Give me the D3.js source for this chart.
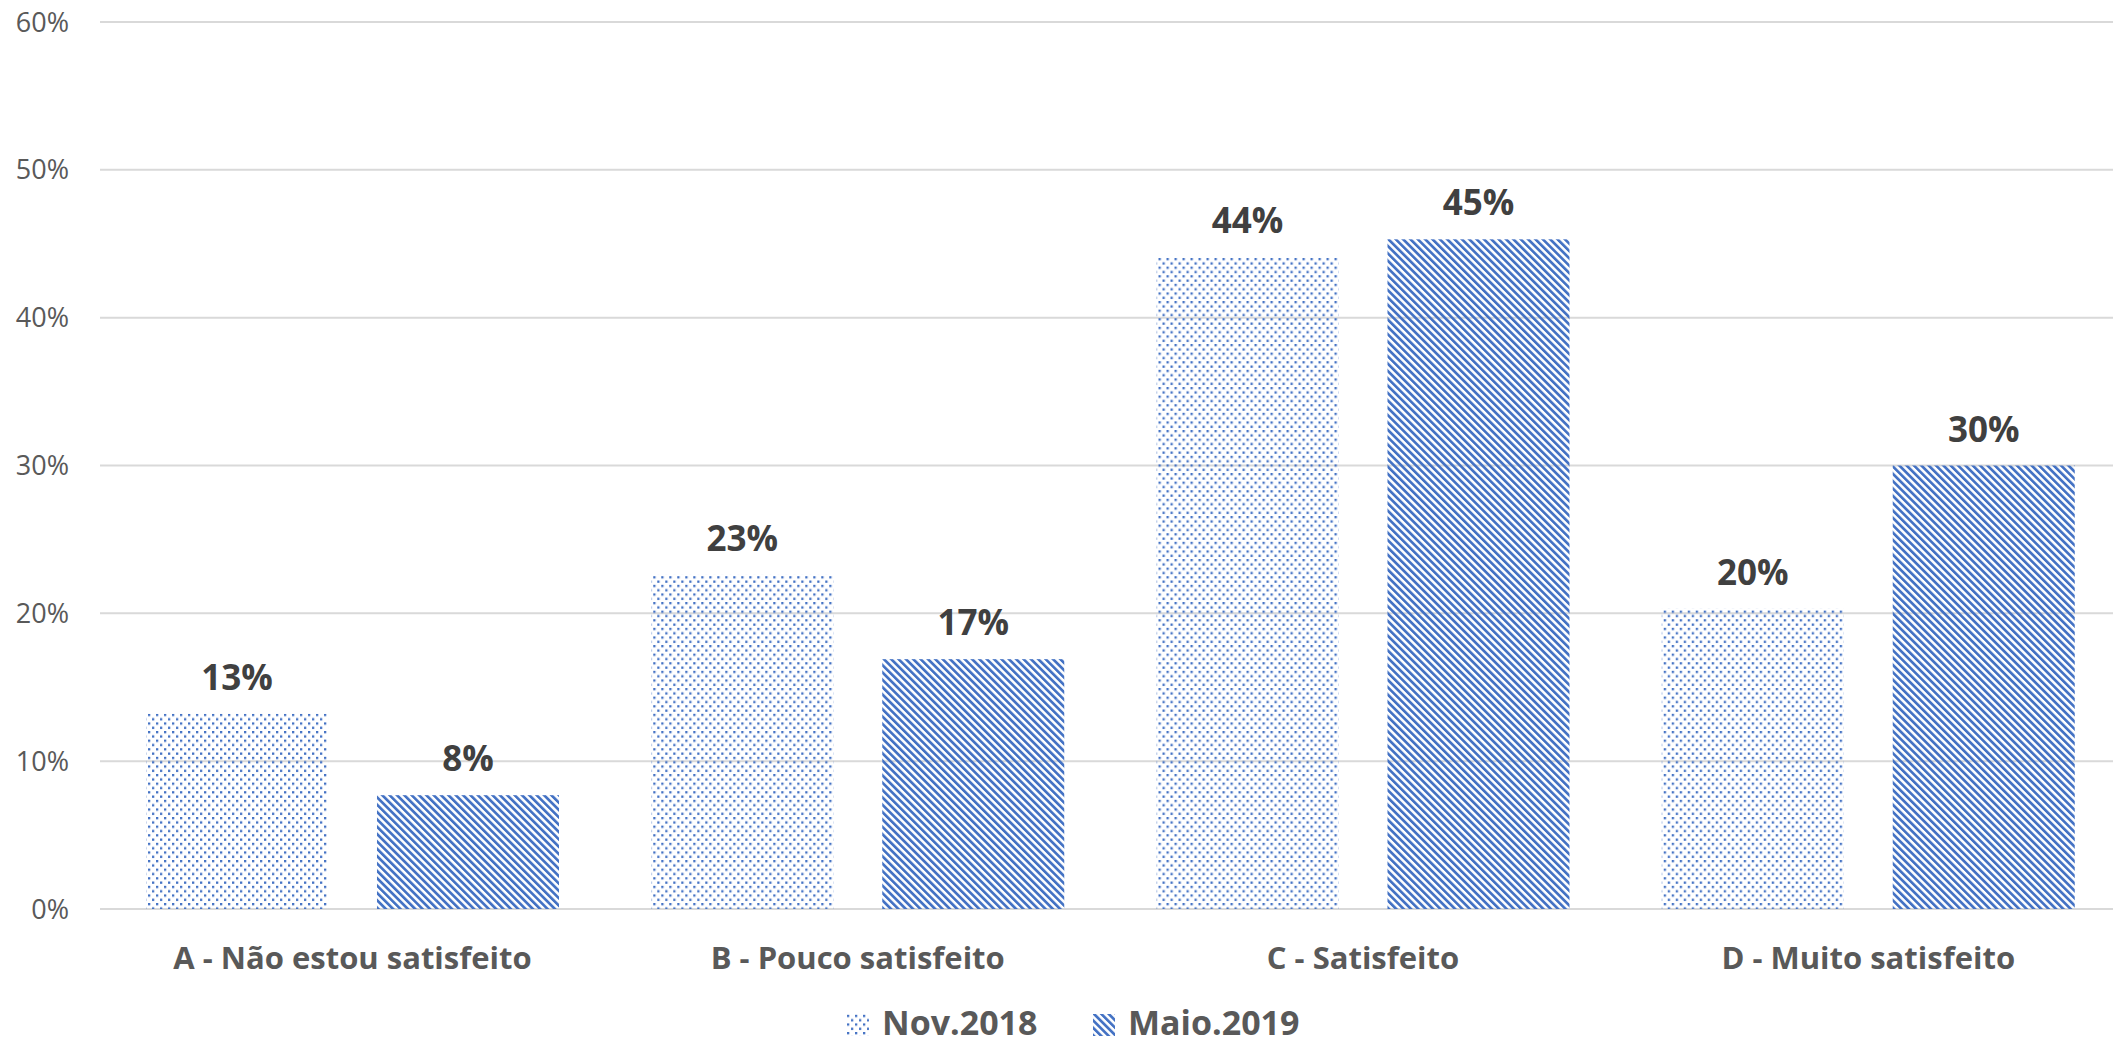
<!DOCTYPE html>
<html>
<head>
<meta charset="utf-8">
<script src="https://cdn.jsdelivr.net/npm/d3@7"></script>
<style>
  html, body { margin: 0; padding: 0; background: #fff; }
  svg { display: block; font-family: 'Open Sans', sans-serif; }
</style>
</head>
<body>
<div id="chart-area"></div>
<script>
// data
let categories = ['A - Não estou satisfeito', 'B - Pouco satisfeito', 'C - Satisfeito', 'D - Muito satisfeito'];
let seriesNames = ['Nov.2018', 'Maio.2019'];
let nov2018 = [0.132, 0.226, 0.441, 0.203];
let maio2019 = [0.077, 0.169, 0.453, 0.3];
let yTicks = [0, 0.1, 0.2, 0.3, 0.4, 0.5, 0.6];

let width = 2113;
let height = 1045;
let plot = { left: 100, right: 2121, top: 22, bottom: 909 };
let blue = '#4472C4';

let chart = d3
  .select('#chart-area')
  .append('svg')
  .attr('width', width)
  .attr('height', height);

//patterns
let defs = chart.append('defs');
let dots = defs
  .append('pattern')
  .attr('id', 'pat-dots')
  .attr('patternUnits', 'userSpaceOnUse')
  .attr('width', 8)
  .attr('height', 8.6);
dots.append('rect').attr('x', 0).attr('y', 0).attr('width', 2.3).attr('height', 2.3).attr('fill', blue);
dots.append('rect').attr('x', 4).attr('y', 4.3).attr('width', 2.3).attr('height', 2.3).attr('fill', blue);

let stripes = defs
  .append('pattern')
  .attr('id', 'pat-stripes')
  .attr('patternUnits', 'userSpaceOnUse')
  .attr('width', 5.2)
  .attr('height', 10)
  .attr('patternTransform', 'rotate(-45)');
stripes.append('rect').attr('x', 0).attr('y', 0).attr('width', 2.7).attr('height', 10).attr('fill', blue);

let fills = ['url(#pat-dots)', 'url(#pat-stripes)'];

let x0 = d3.scaleBand().domain(categories).range([plot.left, plot.right]);
let x1 = d3.scaleBand().domain(seriesNames).range([46, 459]).paddingInner(0.212);
let y = d3.scaleLinear().domain([0, 0.6]).range([plot.bottom, plot.top]);

//gridlines
chart
  .append('g')
  .selectAll('line')
  .data(yTicks)
  .enter()
  .append('line')
  .attr('x1', plot.left)
  .attr('x2', width)
  .attr('y1', (d) => y(d))
  .attr('y2', (d) => y(d))
  .attr('stroke', '#d9d9d9')
  .attr('stroke-width', 2);

//y axis labels
chart
  .append('g')
  .selectAll('text')
  .data(yTicks)
  .enter()
  .append('text')
  .attr('x', 69)
  .attr('y', (d) => y(d) + 9.5)
  .attr('text-anchor', 'end')
  .style('font-size', '27px')
  .style('fill', '#595959')
  .text((d) => d3.format('.0%')(d));

let rows = categories.map((c, i) => ({
  category: c,
  values: [
    { series: seriesNames[0], value: nov2018[i], fill: fills[0] },
    { series: seriesNames[1], value: maio2019[i], fill: fills[1] },
  ],
}));

let groups = chart
  .append('g')
  .selectAll('g')
  .data(rows)
  .enter()
  .append('g')
  .attr('transform', (d) => `translate(${x0(d.category)},0)`);

//bars
groups
  .selectAll('rect')
  .data((d) => d.values)
  .enter()
  .append('rect')
  .attr('x', (d) => x1(d.series))
  .attr('y', (d) => y(d.value))
  .attr('width', x1.bandwidth())
  .attr('height', (d) => y(0) - y(d.value))
  .attr('fill', (d) => d.fill);

//value labels
groups
  .selectAll('text.value')
  .data((d) => d.values)
  .enter()
  .append('text')
  .attr('class', 'value')
  .attr('x', (d) => x1(d.series) + x1.bandwidth() / 2)
  .attr('y', (d) => y(d.value) - 24)
  .attr('text-anchor', 'middle')
  .style('font-size', '35px')
  .style('font-weight', 'bold')
  .style('fill', '#404040')
  .text((d) => Math.round(d.value * 100) + '%');

//category labels
chart
  .append('g')
  .selectAll('text')
  .data(categories)
  .enter()
  .append('text')
  .attr('x', (d) => x0(d) + (46 + 459) / 2)
  .attr('y', 969)
  .attr('text-anchor', 'middle')
  .style('font-size', '31px')
  .style('font-weight', 'bold')
  .style('fill', '#595959')
  .text((d) => d);

//legend
let legendX = [847, 1093];
let legend = chart
  .append('g')
  .selectAll('g')
  .data(seriesNames)
  .enter()
  .append('g')
  .attr('transform', (d, i) => `translate(${legendX[i]},0)`);
legend
  .append('rect')
  .attr('x', 0)
  .attr('y', 1014)
  .attr('width', 22)
  .attr('height', 22)
  .attr('fill', (d, i) => fills[i]);
legend
  .append('text')
  .attr('x', 35)
  .attr('y', 1035)
  .style('font-size', '34px')
  .style('font-weight', 'bold')
  .style('fill', '#595959')
  .text((d) => d);
</script>
</body>
</html>
